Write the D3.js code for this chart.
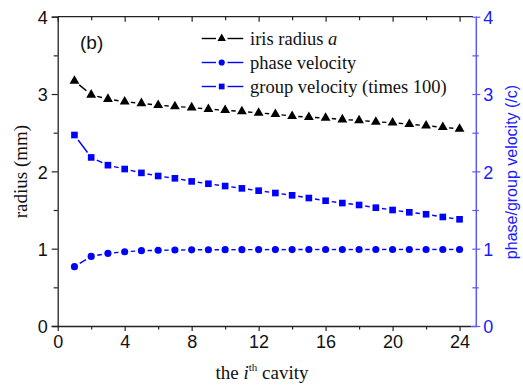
<!DOCTYPE html>
<html><head><meta charset="utf-8">
<script src="https://cdn.jsdelivr.net/npm/d3@7"></script>
<style>body{margin:0;background:#fff}svg{display:block}</style>
</head><body><svg id="c" width="523" height="386"></svg>
<script>
const cavity = d3.range(1, 25);
const irisRadius = [3.17,2.99,2.935,2.9,2.88,2.855,2.84,2.825,2.805,2.79,2.775,2.755,2.74,2.715,2.70,2.69,2.67,2.66,2.64,2.63,2.61,2.59,2.57,2.55];
const phaseVelocity = [0.767,0.90,0.94,0.96,0.974,0.979,0.983,0.985,0.986,0.987,0.987,0.988,0.988,0.988,0.989,0.989,0.989,0.989,0.99,0.99,0.99,0.99,0.99,0.99];
const groupVelocity = [2.47,2.18,2.08,2.03,1.98,1.94,1.91,1.87,1.84,1.81,1.78,1.75,1.72,1.69,1.655,1.62,1.59,1.565,1.53,1.50,1.47,1.445,1.41,1.38];
const xTicks = [0,4,8,12,16,20,24];
const yTicks = [0,1,2,3,4];
const legendLabels = ["iris radius ", "phase velocity", "group velocity (times 100)"];

const svg = d3.select("#c");
const x = d3.scaleLinear().domain([0,25]).range([57.7,476.3]);
const y = d3.scaleLinear().domain([0,4]).range([326,16.7]);
const yR = d3.scaleLinear().domain([0,4]).range([326,16.7]);
const BLUE = "#0000ff", AXB = "#5a5aff", TXB = "#1a1aff";
const sans = "'Liberation Sans', Arial, sans-serif", serif = "'Liberation Serif', 'Times New Roman', serif";

// axes
const gB = svg.append("g").attr("transform","translate(0,326)")
  .call(d3.axisBottom(x).tickValues(xTicks).tickSize(5).tickFormat(d3.format("d")));
const gBm = svg.append("g").attr("transform","translate(0,326)")
  .call(d3.axisBottom(x).tickValues(d3.range(2,25,4)).tickSize(3.5).tickFormat(""));
const gT = svg.append("g").attr("transform","translate(0,16.7)")
  .call(d3.axisTop(x).tickValues(xTicks).tickSize(-5).tickFormat(""));
const gTm = svg.append("g").attr("transform","translate(0,16.7)")
  .call(d3.axisTop(x).tickValues(d3.range(2,25,4)).tickSize(-3.5).tickFormat(""));
const gL = svg.append("g").attr("transform","translate(57.7,0)")
  .call(d3.axisLeft(y).tickValues(yTicks).tickSize(6).tickFormat(d3.format("d")));
const gLm = svg.append("g").attr("transform","translate(57.7,0)")
  .call(d3.axisLeft(y).tickValues([0.5,1.5,2.5,3.5]).tickSize(4).tickFormat(""));
[gB,gBm,gT,gTm,gL,gLm].forEach(g=>{
  g.selectAll("path.domain").attr("stroke","#222").attr("stroke-width",1.3);
  g.selectAll(".tick line").attr("stroke","#222").attr("stroke-width",1.2);
  g.selectAll("text").attr("font-family",sans).attr("font-size",18).attr("fill","#111");
});
gB.selectAll("path.domain").attr("d", `M${x(0)},0.5H${x(24.7)}`);
gT.selectAll("path.domain").attr("d", `M${x(0)},0H${x(24.8)}`);
gBm.selectAll("path.domain").remove(); gTm.selectAll("path.domain").remove(); gLm.selectAll("path.domain").remove();
gB.selectAll("text").attr("dy","0.95em").attr("y",5);
gL.selectAll("text").attr("x",-10).attr("dy","0.38em");

const gR = svg.append("g").attr("transform",`translate(${x(25)},0)`)
  .call(d3.axisRight(yR).tickValues(yTicks).tickSize(4).tickFormat(d3.format("d")));
const gRm = svg.append("g").attr("transform",`translate(${x(25)},0)`)
  .call(d3.axisRight(yR).tickValues([0.5,1.5,2.5,3.5]).tickSize(2.5).tickFormat(""));
gRm.selectAll("path.domain").remove();
[gR,gRm].forEach(g=>{
  g.selectAll("path.domain").attr("stroke",AXB).attr("stroke-width",1.5).attr("d","M-5,326.5H0V16.7");
  g.selectAll(".tick line").attr("stroke",AXB).attr("stroke-width",1.2).attr("x1",-4);
});
gR.selectAll("text").attr("font-family",sans).attr("font-size",18).attr("fill",TXB).attr("x",7).attr("dy","0.38em");

// titles
const xt = svg.append("text").attr("x",262).attr("y",379).attr("text-anchor","middle")
  .attr("font-family",serif).attr("font-size",19).attr("fill","#111");
xt.append("tspan").text("the ");
xt.append("tspan").attr("font-style","italic").text("i");
xt.append("tspan").attr("font-size",11).attr("dy",-8).text("th");
xt.append("tspan").attr("dy",8).text(" cavity");
svg.append("text").attr("transform","translate(27,171.5) rotate(-90)").attr("text-anchor","middle")
  .attr("font-family",serif).attr("font-size",19).attr("fill","#111").text("radius (mm)");
svg.append("text").attr("transform","translate(517,172) rotate(-90)").attr("text-anchor","middle")
  .attr("font-family",sans).attr("font-size",16).attr("fill",TXB).text("phase/group velocity (/c)");
svg.append("text").attr("x",80).attr("y",49).attr("font-family",sans).attr("font-size",19).attr("fill","#111").text("(b)");

// series
function gapSegments(pts, gap){
  const segs=[];
  for(let i=0;i<pts.length-1;i++){
    const [x0,y0]=pts[i],[x1,y1]=pts[i+1];
    const dx=x1-x0, dy=y1-y0, L=Math.hypot(dx,dy);
    if(L>2*gap){const ux=dx/L, uy=dy/L; segs.push([x0+ux*gap,y0+uy*gap,x1-ux*gap,y1-uy*gap]);}
  }
  return segs;
}
const series = [
  {vals: irisRadius, sc: y, color:"#000", sym:d3.symbolTriangle, size:42},
  {vals: phaseVelocity, sc: yR, color:BLUE, sym:d3.symbolCircle, size:40},
  {vals: groupVelocity, sc: y, color:BLUE, sym:d3.symbolSquare, size:44}
];
series.forEach(s=>{
  const pts = cavity.map((c,i)=>[x(c), s.sc(s.vals[i])]);
  const g = svg.append("g");
  g.selectAll("line").data(gapSegments(pts,6.2)).join("line")
    .attr("x1",d=>d[0]).attr("y1",d=>d[1]).attr("x2",d=>d[2]).attr("y2",d=>d[3])
    .attr("stroke",s.color).attr("stroke-width",1.4);
  g.selectAll("path").data(pts).join("path")
    .attr("d",d3.symbol(s.sym,s.size)).attr("transform",d=>`translate(${d[0]},${d[1]})`).attr("fill",s.color);
});

// legend
const lg = svg.append("g");
legendLabels.forEach((lab,i)=>{
  const s = series[i], yy = 38.5 + i*24;
  lg.append("line").attr("x1",201.7).attr("x2",216).attr("y1",yy).attr("y2",yy).attr("stroke",s.color).attr("stroke-width",1.4);
  lg.append("line").attr("x1",227.5).attr("x2",243.3).attr("y1",yy).attr("y2",yy).attr("stroke",s.color).attr("stroke-width",1.4);
  lg.append("path").attr("d",d3.symbol(s.sym,s.size*0.75)).attr("transform",`translate(221.7,${yy})`).attr("fill",s.color);
  const t = lg.append("text").attr("x",250).attr("y",yy+6).attr("font-family",serif).attr("font-size",18.5).attr("fill","#111").text(lab);
  if(i===0) t.append("tspan").attr("font-style","italic").text("a");
});
</script></body></html>
